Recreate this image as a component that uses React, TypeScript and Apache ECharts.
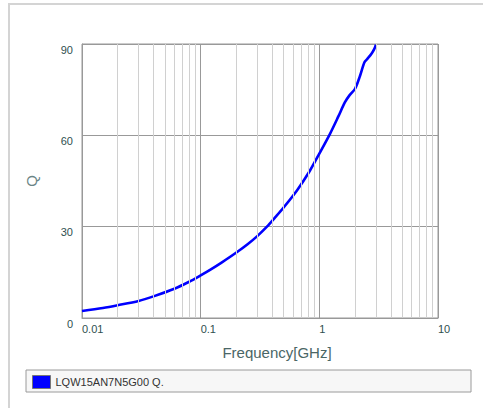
import React, { useEffect, useRef } from "react";
import * as echarts from "echarts";

const SERIES_NAME = "LQW15AN7N5G00 Q.";
const FREQ = [0.01, 0.015, 0.02, 0.03, 0.04, 0.06, 0.08, 0.1, 0.12, 0.15, 0.2, 0.25, 0.3, 0.36, 0.43, 0.5, 0.65, 0.83, 1.0, 1.23, 1.45, 1.64, 1.8, 2.0, 2.2, 2.4, 2.55, 2.75, 2.9, 3.0];
const QVAL = [2.3, 3.3, 4.2, 5.6, 7.1, 9.6, 11.9, 14.0, 15.8, 18.2, 21.5, 24.3, 26.9, 29.9, 33.3, 36.3, 42.0, 48.3, 54.0, 60.5, 66.3, 70.8, 73.2, 75.3, 79.5, 84.0, 85.2, 86.8, 88.3, 89.8];
const MINOR_TICKS = [
  0.02, 0.03, 0.04, 0.05, 0.06, 0.07, 0.08, 0.09,
  0.2, 0.3, 0.4, 0.5, 0.6, 0.7, 0.8, 0.9,
  2, 3, 4, 5, 6, 7, 8, 9,
];
const X_MIN = 0.01;
const X_MAX = 10;
const Y_MIN = 0;
const Y_MAX = 90;
const Y_STEP = 30;

export default function App() {
  const ref = useRef<HTMLDivElement>(null);
  useEffect(() => {
    if (!ref.current) return;
    const chart = echarts.init(ref.current, undefined, { renderer: "svg" });
    const font = "'Liberation Sans', Arial, sans-serif";
    chart.setOption({
      animation: false,
      backgroundColor: "#ffffff",
      graphic: [
        {
          type: "rect",
          z: 0,
          shape: { x: 9, y: 4, width: 600, height: 600 },
          style: { fill: "none", stroke: "#d4d4d4", lineWidth: 2 },
          silent: true,
        },
        {
          type: "rect",
          z: 0,
          shape: { x: 26, y: 370, width: 445, height: 22 },
          style: { fill: "#f7f7f7", stroke: "#9a9a9a", lineWidth: 1 },
          silent: true,
        },
      ],
      grid: {
        left: 82,
        right: 45,
        top: 44,
        bottom: 90,
        show: true,
        backgroundColor: "#ffffff",
        borderColor: "#999999",
        borderWidth: 1,
      },
      legend: {
        data: [{ name: SERIES_NAME, icon: "rect" }],
        left: 27,
        top: 370,
        padding: [5, 5, 4, 5],
        itemWidth: 18,
        itemHeight: 13,
        itemGap: 5,
        selectedMode: false,
        itemStyle: { color: "#0000ff", borderColor: "#777777", borderWidth: 1 },
        textStyle: { fontFamily: font, fontSize: 11, color: "#333333", padding: [0, 0, 0, 0] },
      },
      xAxis: {
        type: "log",
        logBase: 10,
        min: X_MIN,
        max: X_MAX,
        name: "Frequency[GHz]",
        nameLocation: "middle",
        nameGap: 27,
        nameTextStyle: { fontFamily: font, fontSize: 15, color: "#4a6666", padding: [0, 0, 0, 34] },
        axisLine: { show: true, lineStyle: { color: "#999999" } },
        axisTick: { show: false },
        axisLabel: {
          fontFamily: font,
          fontSize: 11,
          color: "#2f4f4f",
          align: "left",
          margin: 5,
          formatter: (v: number) => String(v),
        },
        splitLine: { show: true, lineStyle: { color: "#999999", width: 1 } },
      },
      yAxis: {
        type: "value",
        min: Y_MIN,
        max: Y_MAX,
        interval: Y_STEP,
        name: "Q",
        nameLocation: "middle",
        nameGap: 37,
        nameRotate: 90,
        nameTextStyle: { fontFamily: font, fontSize: 15, color: "#6a8585", padding: [0, 0, 6, 0] },
        axisLine: { show: true, lineStyle: { color: "#999999" } },
        axisTick: { show: false },
        axisLabel: {
          fontFamily: font,
          fontSize: 11,
          color: "#2f4f4f",
          margin: 9,
          verticalAlign: "top",
        },
        splitLine: { show: true, lineStyle: { color: "#999999", width: 1 } },
      },
      series: [
        {
          type: "line",
          name: "minor-grid",
          data: [],
          z: 1,
          silent: true,
          markLine: {
            silent: true,
            symbol: ["none", "none"],
            label: { show: false },
            lineStyle: { color: "#d0d0d0", width: 1, type: "solid" },
            emphasis: { disabled: true },
            data: MINOR_TICKS.map((v) => ({ xAxis: v })),
          },
        },
        {
          type: "line",
          name: SERIES_NAME,
          z: 3,
          data: FREQ.map((f, i) => [f, QVAL[i]]),
          smooth: 0.3,
          showSymbol: false,
          symbol: "none",
          lineStyle: { color: "#0000ff", width: 2.6 },
          itemStyle: { color: "#0000ff" },
        },
      ],
    });
    return () => chart.dispose();
  }, []);
  return (
    <div
      ref={ref}
      style={{ position: "fixed", left: 0, top: 0, width: 483, height: 408, background: "#ffffff" }}
    />
  );
}
